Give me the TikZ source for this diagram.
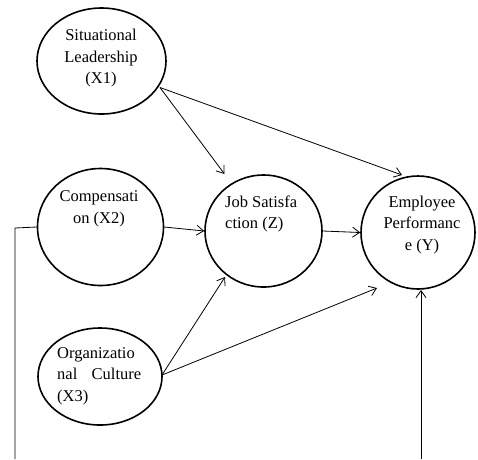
\documentclass[tikz,border=0pt]{standalone}
\usepackage{fontspec}
\setmainfont{Liberation Serif}
\usetikzlibrary{arrows.meta,shapes.geometric}
\begin{document}
\begin{tikzpicture}[x=1pt,y=-1pt,
  var/.style={draw=black,line width=1.6pt,ellipse,inner sep=0pt},
  lbl/.style={inner sep=0pt,font=\fontsize{16.5}{21.5}\selectfont},
  conn/.style={draw=black,line width=0.8pt,-{Straight Barb[length=7pt,width=10pt]}},
  plain/.style={draw=black,line width=0.8pt}]
\useasboundingbox (0,0) rectangle (478,459);
\node[var,minimum width=129pt,minimum height=106pt] (x1) at (101.5,61) {};
\node[var,minimum width=126pt,minimum height=117pt] (x2) at (100.5,227) {};
\node[var,minimum width=117pt,minimum height=112pt] (z) at (263.5,231) {};
\node[var,minimum width=114pt,minimum height=113pt] (y) at (418,232.5) {};
\node[var,minimum width=124pt,minimum height=97pt] (x3) at (100,376.5) {};
\node[lbl,align=center] (tx1) at (101,58.5) {Situational\\Leadership\\(X1)};
\node[lbl,align=center] (tx2) at (99,209) {Compensati\\on (X2)};
\node[lbl,align=left,anchor=west] (tz) at (225,214) {Job Satisfa\\ction (Z)};
\node[lbl,align=center] (ty) at (422,225) {Employee\\Performanc\\e (Y)};
\node[lbl,align=left,anchor=west,text width=86pt] (tx3) at (57,376) {Organizatio\\\makebox[84pt][l]{nal\hfill Culture}\\(X3)};
\coordinate (s1) at (160,87.5);
\coordinate (s3) at (162,375);
\coordinate (bl) at (15,459);
\coordinate (ml) at (15,228);
\coordinate (br) at (421,459);
\coordinate (zt) at (224.5,174);
\coordinate (yt) at (402,175);
\coordinate (zb) at (225,277);
\coordinate (yb) at (377,288);
\coordinate (ybot) at (421,290);
\draw[conn] (s1) -- (zt);
\draw[conn] (s1) -- (yt);
\draw[conn] (x2.east) -- (z.west);
\draw[conn] (z.east) -- (y.west);
\draw[conn] (s3) -- (zb);
\draw[conn] (s3) -- (yb);
\draw[plain] (x2.west) -- (ml) -- (bl);
\draw[conn] (br) -- (ybot);
\end{tikzpicture}
\end{document}
